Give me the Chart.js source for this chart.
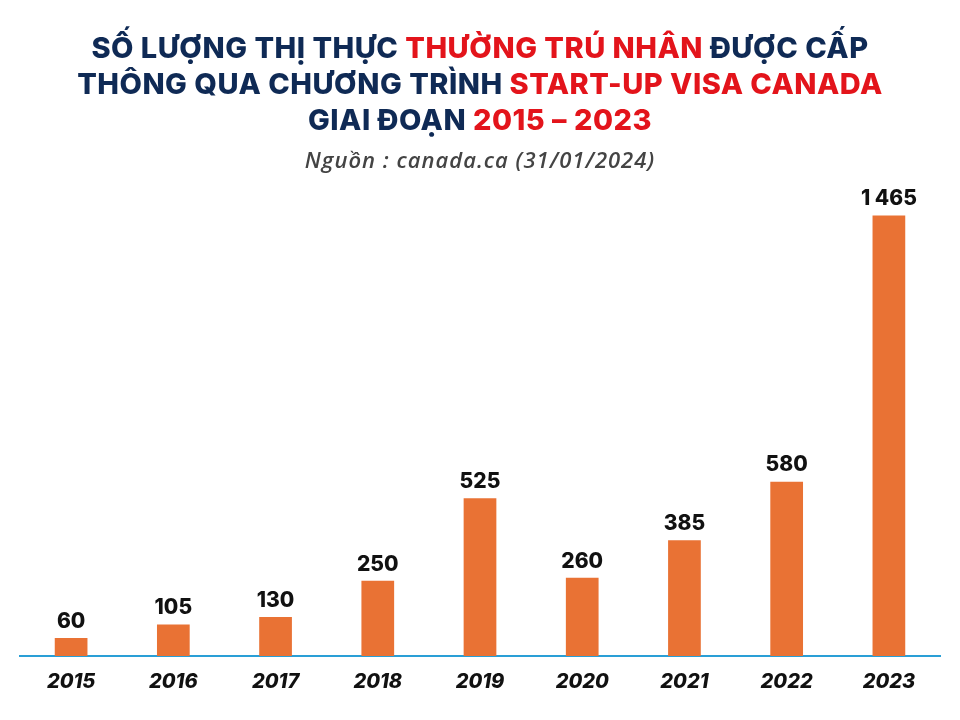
<!DOCTYPE html>
<html>
<head>
<meta charset="utf-8">
<script src="https://cdn.jsdelivr.net/npm/chart.js@4"></script>
<style>
  body { margin: 0; background: #fff; }
  #wrap { position: relative; width: 960px; height: 720px; }
  #title { position: absolute; top: 30px; left: 0; width: 960px; text-align: center;
    font-family: Inter, "Open Sans", sans-serif; font-weight: 800; font-size: 29px;
    line-height: 36px; color: #0f2a55; letter-spacing: 0.5px; }
  #title .r { color: #e3141b; }
  #sub { position: absolute; top: 144px; left: 0; width: 960px; text-align: center;
    font-family: "Open Sans", sans-serif; font-style: italic; font-weight: 600; font-size: 22px;
    color: #444; letter-spacing: 1px; }
  canvas { position: absolute; top: 0; left: 0; }
</style>
</head>
<body>
<div id="wrap">
  <canvas id="barchart" width="960" height="720"></canvas>
  <div id="title">SỐ LƯỢNG THỊ THỰC <span class="r">THƯỜNG TRÚ NHÂN</span> ĐƯỢC CẤP<br>THÔNG QUA CHƯƠNG TRÌNH <span class="r">START-UP VISA CANADA</span><br>GIAI ĐOẠN <span class="r">2015 – 2023</span></div>
  <div id="sub">Nguồn : canada.ca (31/01/2024)</div>
</div>
<script>
const years = ["2015", "2016", "2017", "2018", "2019", "2020", "2021", "2022", "2023"]
const visas = [60, 105, 130, 250, 525, 260, 385, 580, 1465]

const valueLabels = {
    id: 'valueLabels',
    afterDatasetsDraw(chart) {
        const ctx = chart.ctx
        ctx.save()
        ctx.font = '800 21px Inter, sans-serif'
        ctx.fillStyle = '#111'
        ctx.textAlign = 'center'
        ctx.textBaseline = 'bottom'
        chart.getDatasetMeta(0).data.forEach((bar, i) => {
            const txt = visas[i].toLocaleString('en-US').replace(/,/g, ' ')
            ctx.fillText(txt, bar.x, bar.y - 6)
        })
        ctx.restore()
    }
}

new Chart(document.getElementById("barchart").getContext('2d'), {
    type: 'bar',
    data: {
        labels: years,
        datasets: [{
            data: visas,
            backgroundColor: '#e97234',
            barPercentage: 0.32,
            categoryPercentage: 1
        }]
    },
    options: {
        responsive: false,
        animation: false,
        layout: { padding: { top: 190, left: 20, right: 20, bottom: 20 } },
        plugins: { legend: { display: false }, tooltip: { enabled: false } },
        scales: {
            y: { display: false, min: 0, max: 1550 },
            x: {
                grid: { display: false },
                border: { color: '#2a9fd6', width: 2 },
                ticks: { color: '#111', font: { family: 'Inter', weight: 800, style: 'italic', size: 20 }, padding: 6 }
            }
        }
    },
    plugins: [valueLabels]
})
</script>
</body>
</html>
